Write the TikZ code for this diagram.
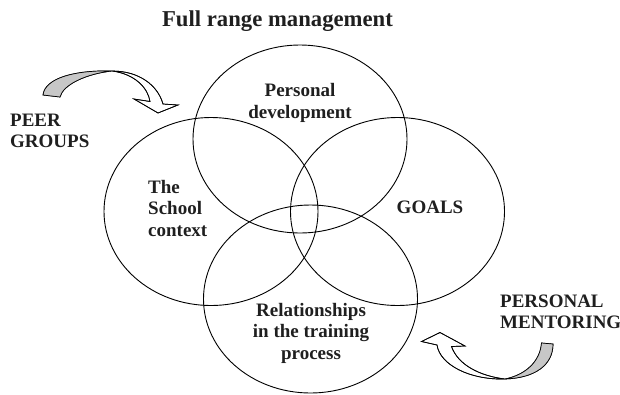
\documentclass[tikz,border=0pt]{standalone}
\usepackage{fontspec}
\setmainfont{Liberation Serif}
\usetikzlibrary{shapes.geometric}
\begin{document}
\begin{tikzpicture}[x=1pt,y=-1pt,
  ring/.style={draw, ellipse, line width=0.9pt, minimum width=214pt,
               minimum height=188pt, inner sep=0pt, outer sep=0pt},
  lbl/.style={font=\fontsize{19}{21.5}\selectfont\bfseries,
              inner sep=0pt, text=black!88},
  headline/.style={font=\fontsize{22.7}{26}\selectfont\bfseries,
                   inner sep=0pt, text=black!88},
  ribbon/.style={draw, line width=0.7pt, line join=miter, fill=white},
  underside/.style={fill=black!22}]

% page frame
\path[use as bounding box] (0,0) rectangle (620,394);

% the four overlapping areas
\node[ring] (pd) at (300,139)     {};
\node[ring] (sc) at (211,211.5)   {};
\node[ring] (go) at (397.5,211.5) {};
\node[ring] (rt) at (310.5,299)   {};

% labels
\node[headline, anchor=base] (title) at (277.5,26) {Full range management};
\node[lbl, align=center] (pdl) at (300,103) {Personal\\development};
\node[lbl, align=left, anchor=west] (scl) at (148,208) {The\\School\\context};
\node[lbl] (gol) at (430,207) {GOALS};
\node[lbl, align=center] (rtl) at (311,333) {Relationships\\in the training\\process};
\node[lbl, align=left, anchor=west] (peer) at (10,131) {PEER\\GROUPS};
\node[lbl, align=left, anchor=west] (ment) at (500,312) {PERSONAL\\MENTORING};

% twisted ribbon arrow, upper left
\path[ribbon]
  (43,95) .. controls (45,78) and (75,70) .. (112,71)
          .. controls (140,71) and (158,86) .. (163,104)
  -- (178,105) -- (158,113) -- (134,99) -- (150,101.5)
          .. controls (148,88) and (135,74) .. (112,71)
          .. controls (85,74) and (63,85) .. (60,97) -- cycle;
\path[underside]
  (43,95) .. controls (45,78) and (75,70) .. (112,71)
          .. controls (85,74) and (63,85) .. (60,97) -- cycle;
\draw[line width=0.7pt, line join=miter]
  (43,95) .. controls (45,78) and (75,70) .. (112,71)
          .. controls (140,71) and (158,86) .. (163,104)
  -- (178,105) -- (158,113) -- (134,99) -- (150,101.5)
          .. controls (148,88) and (135,74) .. (112,71)
          .. controls (85,74) and (63,85) .. (60,97) -- cycle;

% twisted ribbon arrow, lower right
\path[ribbon]
  (505,379) .. controls (480,376) and (458,365) .. (451.5,346.5)
  -- (465,346) -- (440,332.5) -- (421.5,341.5) -- (437,345)
            .. controls (440,365) and (470,380) .. (505,379)
            .. controls (535,378) and (553,365) .. (553,344)
  -- (541.5,343) .. controls (540,362) and (525,375) .. (505,379) -- cycle;
\path[underside]
  (505,379) .. controls (535,378) and (553,365) .. (553,344)
  -- (541.5,343) .. controls (540,362) and (525,375) .. (505,379) -- cycle;
\draw[line width=0.7pt, line join=miter]
  (505,379) .. controls (480,376) and (458,365) .. (451.5,346.5)
  -- (465,346) -- (440,332.5) -- (421.5,341.5) -- (437,345)
            .. controls (440,365) and (470,380) .. (505,379)
            .. controls (535,378) and (553,365) .. (553,344)
  -- (541.5,343) .. controls (540,362) and (525,375) .. (505,379) -- cycle;
\end{tikzpicture}
\end{document}
